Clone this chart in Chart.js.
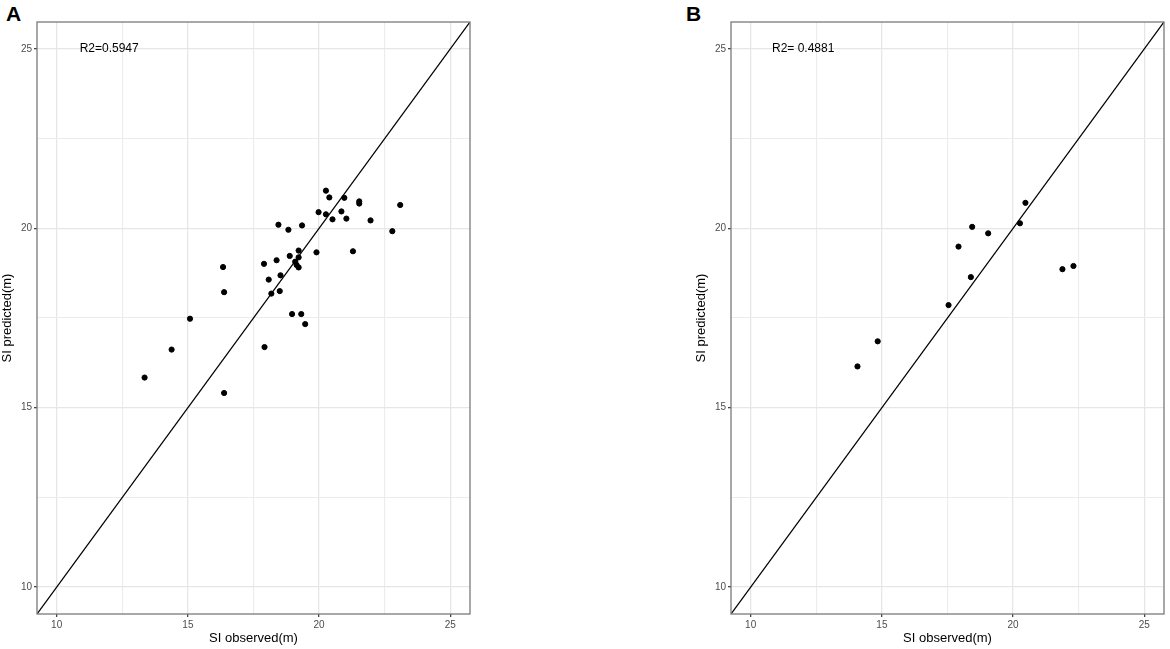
<!DOCTYPE html>
<html>
<head>
<meta charset="utf-8">
<script src="https://cdn.jsdelivr.net/npm/chart.js@4.4.1/dist/chart.umd.min.js"></script>
<style>
  html, body { margin: 0; padding: 0; background: #fff; overflow: hidden; }
  body { width: 1170px; height: 649px; position: relative; font-family: "Liberation Sans", Arial, sans-serif; }
  .panel { position: absolute; top: 0; height: 649px; }
  .tag { position: absolute; top: 2px; font-weight: bold; font-size: 21px; color: #000; }
</style>
</head>
<body>
<div class="tag" style="left:6px">A</div>
<div class="tag" style="left:686px">B</div>
<div class="panel" style="left:0;width:480px"><canvas id="chartA"></canvas></div>
<div class="panel" style="left:694px;width:476px"><canvas id="chartB"></canvas></div>
<script>
// axis setup shared by both panels
var axisMin = 9.25;
var axisMax = 25.75;
var gridValues = [10, 12.5, 15, 17.5, 20, 22.5, 25];
var tickLabels = ['10', '15', '20', '25'];
var xTitle = 'SI observed(m)';
var yTitle = 'SI predicted(m)';

// panel A (calibration)
var observedA = [20.26, 20.39, 20.96, 21.53, 21.53, 23.09, 19.98, 20.26, 20.85, 20.51,
                 21.04, 21.96, 18.45, 19.35, 18.83, 22.79, 19.22, 19.90, 21.29, 18.88,
                 19.22, 18.38, 17.90, 19.09, 19.14, 19.22, 16.34, 18.53, 18.08, 16.38,
                 18.50, 18.18, 15.08, 18.97, 19.32, 19.47, 14.38, 17.92, 13.35, 16.38];
var predictedA = [21.05, 20.86, 20.85, 20.75, 20.69, 20.65, 20.45, 20.39, 20.47, 20.25,
                  20.27, 20.22, 20.10, 20.08, 19.96, 19.92, 19.38, 19.33, 19.36, 19.23,
                  19.19, 19.11, 19.01, 19.07, 18.98, 18.91, 18.92, 18.69, 18.57, 18.22,
                  18.25, 18.18, 17.48, 17.61, 17.61, 17.33, 16.62, 16.69, 15.84, 15.41];
var r2A = 'R2=0.5947';

// panel B (validation)
var observedB = [20.47, 20.26, 18.44, 19.05, 17.92, 21.88, 22.30, 18.39, 17.54, 14.84, 14.07];
var predictedB = [20.71, 20.14, 20.04, 19.86, 19.49, 18.86, 18.95, 18.64, 17.86, 16.85, 16.15];
var r2B = 'R2= 0.4881';

var labelPos = { x: 12, y: 25 };

function zip(xs, ys) {
  return xs.map(function (v, i) { return { x: v, y: ys[i] }; });
}

function isMajor(v) {
  return tickLabels.indexOf(String(v)) !== -1;
}

// frame round the plot plus the R2 text
var framePlugin = {
  id: 'frame',
  afterDatasetsDraw: function (chart, args, opts) {
    var a = chart.chartArea, c = chart.ctx;
    c.save();
    c.strokeStyle = '#7a7a7a';
    c.lineWidth = 1.3;
    c.strokeRect(a.left, a.top, a.right - a.left, a.bottom - a.top);
    c.fillStyle = '#000';
    c.font = '12px "Liberation Sans", Arial, sans-serif';
    c.textAlign = 'center';
    c.textBaseline = 'middle';
    c.fillText(opts.text, chart.scales.x.getPixelForValue(labelPos.x), chart.scales.y.getPixelForValue(labelPos.y));
    c.restore();
  }
};

function axis(title, pos) {
  return {
    type: 'linear',
    position: pos,
    min: axisMin,
    max: axisMax,
    afterBuildTicks: function (s) {
      s.ticks = gridValues.map(function (v) { return { value: v }; });
    },
    afterFit: function (s) {
      if (pos === 'left') s.width = 37; else s.height = 35;
    },
    grid: {
      color: function (ctx) { return ctx.tick && isMajor(ctx.tick.value) ? '#e6e6e6' : '#ececec'; },
      lineWidth: function (ctx) { return ctx.tick && isMajor(ctx.tick.value) ? 1.3 : 1.1; },
      tickColor: function (ctx) { return ctx.tick && isMajor(ctx.tick.value) ? '#444' : 'rgba(0,0,0,0)'; },
      tickLength: 3,
      drawTicks: true
    },
    border: { display: false },
    ticks: {
      autoSkip: false,
      maxRotation: 0,
      padding: 2,
      color: '#4d4d4d',
      font: { family: '"Liberation Sans", Arial, sans-serif', size: 10 },
      callback: function (v) { return isMajor(v) ? String(v) : ''; }
    },
    title: {
      display: true,
      text: title,
      color: '#000',
      font: { family: '"Liberation Sans", Arial, sans-serif', size: 13 },
      padding: { top: 0, bottom: 3 }
    }
  };
}

function makeChart(id, xs, ys, r2, rightPad) {
  var ctx = document.getElementById(id).getContext('2d');
  return new Chart(ctx, {
    type: 'scatter',
    data: {
      datasets: [{
        data: zip(xs, ys),
        backgroundColor: '#000',
        borderColor: '#000',
        pointRadius: 2.6,
        pointHoverRadius: 2.6
      }, {
        type: 'line',
        data: zip([axisMin, axisMax], [axisMin, axisMax]),
        borderColor: '#000',
        borderWidth: 1.3,
        pointRadius: 0,
        fill: false
      }]
    },
    options: {
      responsive: true,
      maintainAspectRatio: false,
      animation: false,
      layout: { padding: { top: 22, right: rightPad, left: 0, bottom: 0 } },
      plugins: {
        legend: { display: false },
        tooltip: { enabled: false },
        frame: { text: r2 }
      },
      scales: {
        x: axis(xTitle, 'bottom'),
        y: axis(yTitle, 'left')
      }
    },
    plugins: [framePlugin]
  });
}

makeChart('chartA', observedA, predictedA, r2A, 10);
makeChart('chartB', observedB, predictedB, r2B, 6);
</script>
</body>
</html>
